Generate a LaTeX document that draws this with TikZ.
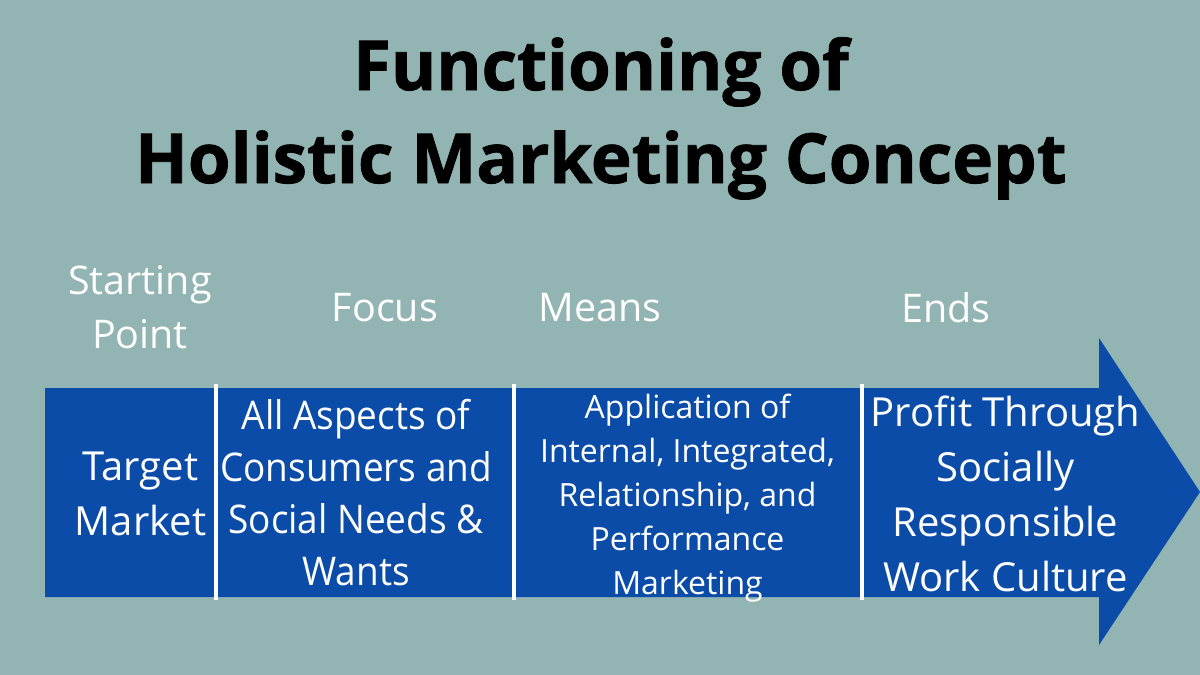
\documentclass[tikz,border=0pt]{standalone}
\usepackage{fontspec}
\setmainfont{Open Sans}
\newfontfamily\titlefont[BoldFeatures={FakeBold=1.2}]{Open Sans}
\newfontfamily\narrowfont[FakeStretch=0.935]{Open Sans}
\definecolor{bgc}{RGB}{146,180,178}
\definecolor{bandc}{RGB}{10,76,168}
\tikzset{
  hdr/.style={text=white, align=center, inner sep=0pt, anchor=base, font=\fontsize{39.5}{54}\selectfont},
  cell/.style={text=white, align=center, inner sep=0pt, anchor=base, font=\fontsize{40}{55}\selectfont},
  aspcell/.style={text=white, align=center, inner sep=0pt, anchor=base, font=\narrowfont\fontsize{39.5}{52}\selectfont},
  smallcell/.style={text=white, align=center, inner sep=0pt, anchor=base, font=\fontsize{32}{44}\selectfont},
  ttl/.style={text=black, align=center, inner sep=0pt, anchor=base, font=\titlefont\fontsize{69}{93}\selectfont\bfseries},
  sep/.style={draw=white, line width=4pt}
}
\begin{document}
\begin{tikzpicture}[x=1pt,y=-1pt]
\useasboundingbox (0,0) rectangle (1200,675);
\fill[bgc] (0,0) rectangle (1200,675);
% arrow band
\fill[bandc] (45,388) -- (1099,388) -- (1099,338) -- (1200,492) -- (1099,645) -- (1099,597) -- (45,597) -- cycle;
% separators
\draw[sep] (216,384) -- (216,600);
\draw[sep] (514,384) -- (514,600);
\draw[sep] (862,384) -- (862,600);
% title
\node[ttl] (title) at (601,183) {Functioning of\\Holistic Marketing Concept};
% headers
\node[hdr] (start) at (140,348) {Starting\\Point};
\node[hdr] (focus) at (385,321) {Focus};
\node[hdr] (means) at (600,321) {Means};
\node[hdr] (ends) at (946,322) {Ends};
% cells
\node[cell] (target) at (140.5,535) {Target\\Market};
\node[aspcell] (aspects) at (356,585) {All Aspects of\\Consumers and\\Social Needs \&\\Wants};
\node[smallcell] (app) at (687.5,594) {Application of\\Internal, Integrated,\\Relationship, and\\Performance\\Marketing};
\node[cell] (profit) at (1005.5,591) {Profit Through\\Socially\\Responsible\\Work Culture};
\end{tikzpicture}
\end{document}
